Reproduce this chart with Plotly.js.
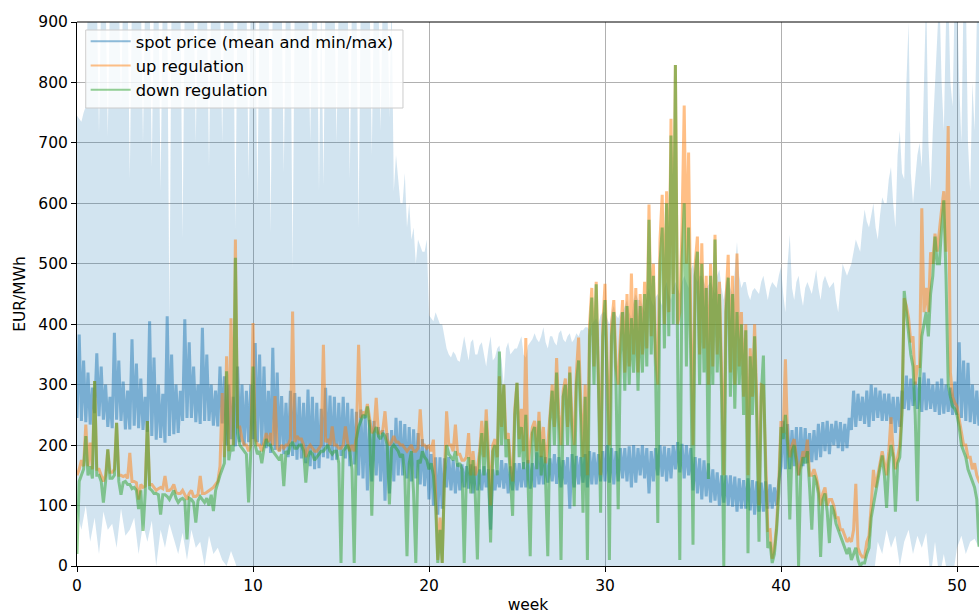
<!DOCTYPE html>
<html><head><meta charset="utf-8">
<script src="https://cdn.plot.ly/plotly-3.0.1.min.js"></script>
<style>html,body{margin:0;padding:0;background:#fff;}#chart{width:979px;height:614px;}</style>
</head><body><div id="chart"></div>
<script>
// sample spacing in weeks
const STEP = 0.125;        // mean, max, up and down regulation: 8 samples per week
const STEP_MIN = 0.25;     // spot minimum: 4 samples per week

// spot price, mean (night low / day high swing), 8 per week
const spotMean = [
245,383,240,340,238,320,234,295, 253,352,248,330,242,300,230,280,
228,386,242,340,240,305,226,290, 226,375,232,335,228,310,225,280,
222,405,215,345,209,300,212,285, 204,413,215,350,218,300,220,290,
240,408,245,370,245,330,238,300, 235,394,240,350,240,300,232,290,
231,330,236,314,200,300,210,280, 198,330,205,300,200,290,205,300,
210,369,205,350,200,330,195,290, 187,361,192,320,190,281,185,270,
180,290,182,286,176,280,178,270, 170,292,165,280,160,270,162,260,
180,295,178,282,175,280,176,270, 182,280,178,270,165,260,168,255,
150,259,145,250,125,242,140,240, 150,230,140,225,108,220,120,225,
140,245,150,240,150,235,145,230, 140,226,145,220,135,210,132,200,
110,185,100,180,85,180,95,178,   130,180,125,175,120,170,125,168,
130,165,128,168,120,165,125,160, 125,165,130,160,60,160,125,158,
130,175,128,170,120,165,125,170, 125,170,130,172,130,175,128,170,
130,188,135,182,135,180,138,178, 140,185,136,180,130,175,135,180,
95,185,130,182,135,180,138,185,  130,190,135,188,135,185,140,190,
140,200,138,195,135,190,140,195, 145,195,140,198,130,200,138,195,
150,200,145,195,120,190,140,195, 150,200,148,198,140,195,145,200,
160,205,155,202,145,200,150,195, 125,180,120,178,110,175,115,170,
105,160,108,155,100,150,105,150, 100,150,98,148,90,145,95,142,
95,145,92,142,85,140,90,138,     90,140,95,135,95,130,100,140,
165,240,160,235,160,225,165,230, 150,230,165,228,170,220,172,225,
175,235,180,238,190,240,185,235, 200,240,195,238,190,235,195,245,
225,290,230,285,240,280,235,290, 230,300,240,295,245,290,240,285,
240,285,235,280,220,280,230,290, 260,315,258,310,265,305,260,312,
255,320,258,310,260,300,255,305, 250,310,252,300,255,295,250,305,
250,370,245,340,240,336,238,300, 235,290,232,285,230,280,235,285
];

// spot price, hourly maximum (values above 900 run off the top), 8 per week
const spotMax = [
745,740,735,750,760,950,950,950, 950,950,716,950,950,950,710,950,
950,950,950,950,760,950,950,950, 640,950,950,950,950,950,700,950,
950,950,660,950,950,950,620,950, 950,950,400,950,950,950,950,950,
542,950,950,950,950,950,700,950, 950,950,950,950,660,950,950,950,
950,950,700,950,950,950,950,950, 559,950,950,950,950,950,640,950,
950,950,600,950,950,950,950,950, 550,950,950,950,950,950,650,950,
950,950,489,950,950,950,950,950, 950,950,700,950,950,950,620,950,
630,950,950,950,950,950,700,950, 950,950,950,950,640,950,950,950,
560,950,950,950,950,950,680,950, 950,950,720,950,950,950,742,950,
620,680,640,600,600,650,560,600, 540,560,500,540,530,520,520,540,
415,410,405,420,410,400,400,380, 360,350,345,355,350,340,338,360,
380,360,340,370,375,350,350,365, 370,350,330,360,380,340,345,360,
365,340,300,360,370,350,355,360, 360,370,380,350,345,365,370,375,
385,375,370,380,395,370,360,380, 380,370,365,385,390,375,370,380,
385,370,375,385,380,390,390,395, 395,390,400,405,410,400,415,420,
420,410,400,420,430,415,410,420, 420,430,440,420,410,440,450,440,
440,430,420,450,460,440,430,445, 450,440,430,460,470,450,440,460,
470,460,450,470,480,470,460,490, 500,480,470,480,480,470,460,465,
470,460,450,480,490,460,440,470, 480,460,450,490,536,480,460,470,
470,450,440,455,460,455,450,470, 480,460,440,460,470,465,460,480,
495,450,420,500,548,460,440,470, 480,450,430,460,470,460,450,470,
490,460,440,470,480,470,460,465, 470,440,420,460,500,490,480,490,
500,520,540,530,520,560,590,570, 560,580,600,560,540,580,610,600,
600,640,660,600,560,680,720,650, 640,800,900,650,600,640,680,700,
660,800,950,700,620,720,800,900, 950,800,720,900,950,800,760,950,
950,800,700,950,950,700,620,800, 720,900,950,700,560,650,700,750
];

// spot price, hourly minimum, 4 per week
const spotMin = [
90,60,100,40, 80,20,90,60, 70,30,95,50, 60,80,20,70,
40,75,0,60, 30,70,45,20, 55,10,60,30, 40,0,50,20,
30,10,0,25, 5,-20,-20,-20, -20,-20,-20,-20, -20,-20,-20,-20,
-20,-20,-20,-20, -20,-20,-20,-20, -20,-20,-20,-20, -20,-20,-20,-20,
-20,-20,-20,-20, -20,-20,-20,-20, -20,-20,-20,-20, -20,-20,-20,-20,
-20,-20,-20,-20, -20,-20,-20,-20, -20,-20,-20,-20, -20,-20,-20,-20,
-20,-20,-20,-20, -20,-20,-20,-20, -20,-20,-20,-20, -20,-20,-20,-20,
-20,-20,-20,-20, -20,-20,-20,-20, -20,-20,-20,-20, -20,-20,-20,-20,
-20,-20,-20,-20, -20,-20,-20,-20, -20,-20,-20,-20, -20,-20,-20,-20,
-20,-20,-20,-20, -20,-20,-20,-20, -20,-20,-20,-20, -20,-20,-20,-20,
-20,-20,-20,-20, -20,-20,-20,-20, -20,-20,-20,-20, -20,-20,-20,-20,
-20,-20,-20,-20, -20,-20,40,20, 60,30,50,0, 40,60,20,50,
30,55,-20,40, -20,20,-20,-20, 30,50,20,40, 45,30,40,20
];

// up regulation price, 8 per week
const upReg = [
150,160,175,165,234,165,204,160, 306,160,160,150,140,150,193,155,
155,160,237,150,150,148,150,145, 187,140,140,138,110,135,130,132,
240,135,135,130,125,128,130,128, 149,125,125,128,135,122,120,120,
125,118,110,120,125,115,115,118, 149,120,120,122,125,128,130,135,
140,165,286,180,347,190,410,200, 540,230,230,210,200,200,190,200,
402,210,200,200,190,205,220,205, 220,200,281,195,190,200,195,200,
200,210,421,205,215,210,210,200, 180,195,200,195,190,190,195,200,
366,205,210,200,231,200,200,195, 195,200,231,205,190,200,190,215,
366,245,255,250,268,240,220,225, 278,220,220,225,256,210,200,205,
215,205,205,200,200,195,190,195, 200,190,190,195,259,200,200,195,
200,190,209,120,10,80,5,150,     256,200,200,190,234,185,185,175,
175,180,220,150,190,150,160,190, 240,180,259,190,100,200,210,180,
314,230,300,210,220,170,140,260, 303,210,260,190,377,170,200,230,
240,190,255,180,230,170,200,250, 300,230,344,250,200,290,310,230,
330,240,200,320,378,270,180,300, 150,400,460,330,470,320,150,400,
467,330,200,400,440,330,300,380, 440,320,450,330,484,350,460,320,
450,350,470,360,598,380,500,350, 300,540,614,400,620,420,740,450,
829,400,420,560,762,500,684,400, 200,500,545,350,534,360,480,300,
500,330,548,350,470,320,150,440, 515,320,480,300,517,330,420,280,
400,150,360,280,400,270,100,300, 298,180,59,60,12,30,67,140,
240,220,342,210,180,200,210,180, 150,170,190,180,209,150,150,160,
148,130,100,120,130,100,110,110, 100,80,80,60,60,50,40,45,
40,60,136,30,20,15,15,40,        50,100,159,130,150,170,190,170,
150,190,246,190,160,180,200,260, 443,430,410,370,380,300,330,330,
592,420,460,420,519,500,550,520, 560,590,620,520,728,320,280,270,
264,240,220,200,200,180,180,160, 170,150,140,135,130,140,150,140
];

// down regulation price, 8 per week
const downReg = [
20,140,150,160,215,150,165,145,  306,150,150,140,105,140,193,145,
145,150,237,140,118,138,140,135, 135,128,130,125,94,125,58,120,
240,128,125,120,120,118,85,118,  118,115,110,118,125,112,105,110,
112,108,44,112,110,105,72,108,   115,110,105,112,100,118,91,125,
140,150,160,170,322,175,200,190, 510,220,200,195,190,185,105,190,
330,200,185,190,170,195,210,200, 200,190,185,180,175,185,132,190,
185,200,205,195,195,200,200,190, 138,180,190,185,175,180,185,190,
190,195,200,190,185,190,190,170, 5,190,195,200,190,160,5,210,
230,240,250,245,264,230,83,220,  230,215,210,220,215,200,102,195,
200,195,190,180,185,150,16,170,  190,120,5,175,170,190,180,175,
160,170,150,100,5,60,5,140,      200,185,180,175,190,165,170,160,
5,150,180,120,175,120,11,180,    220,150,240,160,39,190,200,150,
355,200,300,180,210,150,83,250,  303,180,230,160,250,140,16,220,
230,160,240,150,210,140,16,240,  290,200,320,220,10,280,300,200,
320,210,99,300,340,240,88,280,   10,380,444,300,466,300,88,380,
440,300,10,380,420,300,94,350,   420,290,430,300,410,320,440,290,
430,320,450,330,573,350,480,320, 71,500,560,360,600,380,712,400,
829,350,10,500,600,330,560,340,  35,480,520,300,500,320,460,144,
480,300,540,320,450,280,0,420,   477,280,450,260,420,300,400,250,
390,21,347,250,380,240,40,280,   348,150,30,40,5,20,60,120,
230,210,250,200,77,190,200,170,  0,160,180,170,190,130,60,150,
140,120,15,110,120,90,38,100,    90,70,60,50,40,30,20,30,
10,20,30,10,0,5,5,20,            30,80,101,120,140,160,183,150,
96,170,200,180,90,170,180,250,   455,420,380,350,330,250,107,300,
380,400,420,380,450,480,545,500, 500,560,605,480,300,280,264,260,
250,230,200,190,180,160,150,140, 130,110,32,100,100,120,110,100
];

const legendNames = ['spot price (mean and min/max)', 'up regulation', 'down regulation'];
const xTicks = [0, 10, 20, 30, 40, 50];
const yTicks = [0, 100, 200, 300, 400, 500, 600, 700, 800, 900];

const weeks = spotMean.map((_, i) => i * STEP);
const weeksMin = spotMin.map((_, i) => i * STEP_MIN);

const C_BLUE = 'rgba(31,119,180,0.5)';
const C_ORANGE = 'rgba(255,127,14,0.5)';
const C_GREEN = 'rgba(44,160,44,0.5)';
const FONT = 'DejaVu Sans, Verdana, sans-serif';

const traces = [
  {x: weeksMin, y: spotMin, mode: 'lines', line: {width: 0, color: 'rgba(31,119,180,0)'},
   showlegend: false, hoverinfo: 'skip'},
  {x: weeks, y: spotMax, mode: 'lines', line: {width: 0, color: 'rgba(31,119,180,0)'},
   fill: 'tonexty', fillcolor: 'rgba(31,119,180,0.2)', showlegend: false, hoverinfo: 'skip'},
  {x: weeks, y: spotMean, mode: 'lines', line: {width: 3, color: C_BLUE}, showlegend: false},
  {x: weeks, y: upReg, mode: 'lines', line: {width: 3, color: C_ORANGE}, showlegend: false},
  {x: weeks, y: downReg, mode: 'lines', line: {width: 3, color: C_GREEN}, showlegend: false},
  {x: [null], y: [null], mode: 'lines', name: legendNames[0], line: {width: 2, color: C_BLUE}},
  {x: [null], y: [null], mode: 'lines', name: legendNames[1], line: {width: 2, color: C_ORANGE}},
  {x: [null], y: [null], mode: 'lines', name: legendNames[2], line: {width: 2, color: C_GREEN}}
];

const axisCommon = {
  showline: true, linecolor: '#000', linewidth: 1, mirror: false,
  ticks: 'outside', ticklen: 5, tickwidth: 1, tickcolor: '#000',
  showgrid: true, gridcolor: '#b0b0b0', gridwidth: 1, zeroline: false,
  tickfont: {family: FONT, size: 15.5, color: '#000'}
};

const layout = {
  width: 979, height: 614,
  margin: {l: 77, r: 0, t: 22, b: 48},
  paper_bgcolor: '#fff', plot_bgcolor: '#fff',
  font: {family: FONT, size: 15.5, color: '#000'},
  xaxis: Object.assign({}, axisCommon, {
    range: [0, 51.25], tickmode: 'array', tickvals: xTicks, ticktext: xTicks.map(String),
    title: {text: 'week', font: {family: FONT, size: 15.5, color: '#000'}, standoff: 9}
  }),
  yaxis: Object.assign({}, axisCommon, {
    range: [0, 900], tickmode: 'array', tickvals: yTicks, ticktext: yTicks.map(String),
    title: {text: 'EUR/MWh', font: {family: FONT, size: 15.5, color: '#000'}, standoff: 8}
  }),
  shapes: [
    {type: 'line', xref: 'paper', yref: 'paper', x0: 0, x1: 1, y0: 1, y1: 1,
     line: {color: '#000', width: 1}},
    // legend frame
    {type: 'rect', xref: 'paper', yref: 'paper', layer: 'above',
     x0: 0.0097, x1: 0.3614, y0: 0.8419, y1: 0.9853,
     fillcolor: 'rgba(255,255,255,0.8)', line: {color: '#cccccc', width: 1}}
  ],
  legend: {
    x: 0.0096, y: 0.996, xanchor: 'left', yanchor: 'top', traceorder: 'normal',
    bgcolor: 'rgba(0,0,0,0)', borderwidth: 0,
    font: {family: FONT, size: 16.3, color: '#000'}, itemwidth: 40
  },
  showlegend: true
};

Plotly.newPlot('chart', traces, layout, {displayModeBar: false, staticPlot: true});
</script>
</body></html>
